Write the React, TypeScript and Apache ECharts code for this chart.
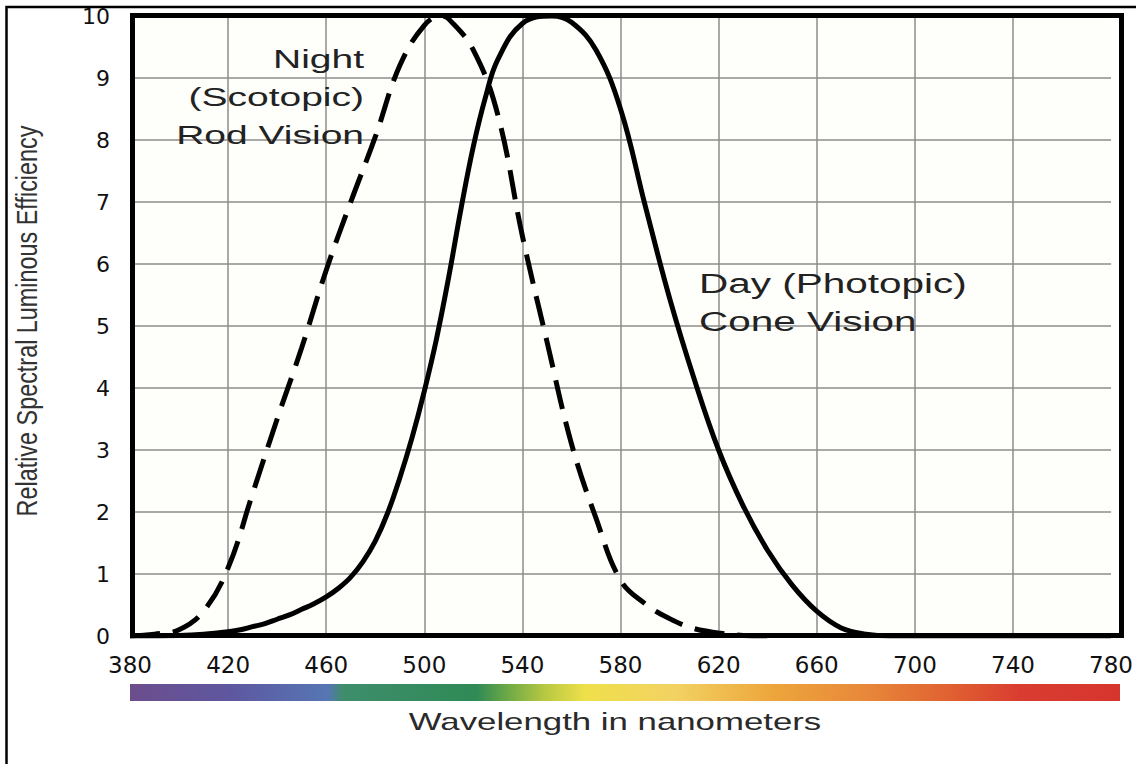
import React, { useEffect, useRef } from "react";
import * as echarts from "echarts";

// Wavelength axis (nm)
const X_START = 380;
const X_END = 780;
const X_STEP = 40;
const Y_MIN = 0;
const Y_MAX = 10;
const Y_STEP = 1;

// Night (Scotopic) Rod Vision – dashed curve
const scotopicNm = [380, 390, 400, 410, 420, 430, 440, 450, 460, 470, 480, 490, 500, 507, 510, 520, 530, 540, 550, 560, 570, 580, 590, 600, 610, 620, 630, 640];
const scotopicVal = [0, 0.03, 0.1, 0.4, 1.1, 2.3, 3.5, 4.65, 5.9, 7.0, 8.05, 9.2, 9.85, 10, 9.95, 9.45, 8.4, 6.45, 4.75, 3.1, 1.9, 0.9, 0.52, 0.28, 0.12, 0.05, 0.01, 0];

// Day (Photopic) Cone Vision – solid curve
const photopicNm = [380, 400, 410, 420, 425, 430, 435, 440, 445, 450, 455, 460, 465, 470, 475, 480, 485, 490, 495, 500, 505, 510, 515, 520, 525, 530, 540, 552, 560, 570, 580, 590, 600, 610, 620, 630, 640, 650, 660, 670, 680, 690, 780];
const photopicVal = [0, 0.01, 0.03, 0.07, 0.1, 0.15, 0.2, 0.27, 0.34, 0.43, 0.52, 0.63, 0.77, 0.95, 1.2, 1.53, 1.98, 2.55, 3.2, 3.95, 4.8, 5.8, 6.9, 7.9, 8.7, 9.3, 9.88, 10, 9.9, 9.45, 8.5, 6.95, 5.45, 4.15, 3.0, 2.1, 1.38, 0.82, 0.4, 0.13, 0.03, 0, 0];

const yAxisTitle = "Relative Spectral Luminous Efficiency";
const xAxisTitle = "Wavelength in nanometers";
const nightLabel = "Night\n(Scotopic)\nRod Vision";
const dayLabel = "Day (Photopic)\nCone Vision";

// spectrum colour stops (position along bar, colour)
const spectrumStops: [number, string][] = [
  [0, "#6c4d8c"],
  [0.1, "#5e57a0"],
  [0.2, "#5676b4"],
  [0.215, "#3e8d6c"],
  [0.35, "#2f8a56"],
  [0.38, "#6aa846"],
  [0.42, "#b9c942"],
  [0.46, "#efe04a"],
  [0.55, "#f2d263"],
  [0.65, "#eda53b"],
  [0.74, "#e8893a"],
  [0.83, "#e06031"],
  [0.9, "#d93c30"],
  [1, "#d6352e"],
];

export default function App() {
  const ref = useRef<HTMLDivElement>(null);

  useEffect(() => {
    document.body.style.margin = "0";
    const chart = echarts.init(ref.current!, null, { renderer: "svg" });

    const toSeries = (nm: number[], v: number[]) => nm.map((n, i) => [n - X_START, v[i]]);

    chart.setOption({
      animation: false,
      backgroundColor: "#ffffff",
      grid: {
        left: 130,
        right: 20,
        top: 16,
        bottom: 128,
        show: true,
        backgroundColor: "#fefefb",
        borderWidth: 0,
      },
      xAxis: {
        type: "value",
        min: 0,
        max: X_END - X_START,
        interval: X_STEP,
        axisLine: { show: false },
        axisTick: { show: false },
        axisLabel: {
          margin: 17,
          fontFamily: "DejaVu Sans",
          fontSize: 23,
          color: "#111",
          formatter: (v: number) => String(v + X_START),
        },
        splitLine: {
          show: true,
          showMinLine: false,
          showMaxLine: false,
          lineStyle: { color: "#8c8c8c", width: 1.5 },
        },
      },
      yAxis: {
        type: "value",
        min: Y_MIN,
        max: Y_MAX,
        interval: Y_STEP,
        axisLine: { show: false },
        axisTick: { show: false },
        axisLabel: {
          margin: 20,
          fontFamily: "DejaVu Sans",
          fontSize: 22,
          color: "#111",
          padding: [6, 0, 0, 0],
        },
        splitLine: {
          show: true,
          showMinLine: false,
          showMaxLine: false,
          lineStyle: { color: "#8c8c8c", width: 1.5 },
        },
      },
      series: [
        {
          type: "line",
          name: "Night (Scotopic) Rod Vision",
          data: toSeries(scotopicNm, scotopicVal),
          showSymbol: false,
          smooth: 0.4,
          lineStyle: { color: "#000", width: 5, type: [30, 13], cap: "butt" },
          z: 3,
        },
        {
          type: "line",
          name: "Day (Photopic) Cone Vision",
          data: toSeries(photopicNm, photopicVal),
          showSymbol: false,
          smooth: 0.4,
          lineStyle: { color: "#000", width: 5 },
          z: 4,
        },
      ],
      graphic: [
        {
          type: "polyline",
          shape: { points: [[6.5, 764], [6.5, 7], [1136, 7]] },
          style: { stroke: "#000", lineWidth: 2.5, fill: "none" },
          z: 100,
        },
        {
          type: "rect",
          shape: { x: 132.5, y: 15.5, width: 989, height: 620 },
          style: { stroke: "#000", lineWidth: 5, fill: "none" },
          z: 100,
        },
        {
          type: "rect",
          shape: { x: 130, y: 684, width: 990, height: 17 },
          style: {
            fill: new echarts.graphic.LinearGradient(
              0, 0, 1, 0,
              spectrumStops.map(([offset, color]) => ({ offset, color }))
            ),
          },
          z: 50,
        },
        {
          type: "text",
          x: 27,
          y: 321,
          rotation: Math.PI / 2,
          scaleX: 0.78,
          style: {
            text: yAxisTitle,
            fontFamily: "'Liberation Sans', Arial, sans-serif",
            fontSize: 30,
            fill: "#333",
            align: "center",
            verticalAlign: "middle",
          },
          z: 60,
        },
        {
          type: "text",
          x: 615,
          y: 722,
          scaleX: 1.45,
          style: {
            text: xAxisTitle,
            fontFamily: "'Liberation Sans', Arial, sans-serif",
            fontSize: 24,
            fill: "#2a2a2a",
            align: "center",
            verticalAlign: "middle",
          },
          z: 60,
        },
        {
          type: "text",
          x: 364,
          y: 97,
          scaleX: 1.5,
          style: {
            text: nightLabel,
            fontFamily: "'Liberation Sans', Arial, sans-serif",
            fontSize: 26,
            lineHeight: 38,
            fill: "#222",
            align: "right",
            verticalAlign: "middle",
          },
          z: 60,
        },
        {
          type: "text",
          x: 699,
          y: 303,
          scaleX: 1.5,
          style: {
            text: dayLabel,
            fontFamily: "'Liberation Sans', Arial, sans-serif",
            fontSize: 27,
            lineHeight: 38,
            fill: "#222",
            align: "left",
            verticalAlign: "middle",
          },
          z: 60,
        },
      ],
    });

    return () => chart.dispose();
  }, []);

  return <div ref={ref} style={{ width: 1136, height: 764 }} />;
}
